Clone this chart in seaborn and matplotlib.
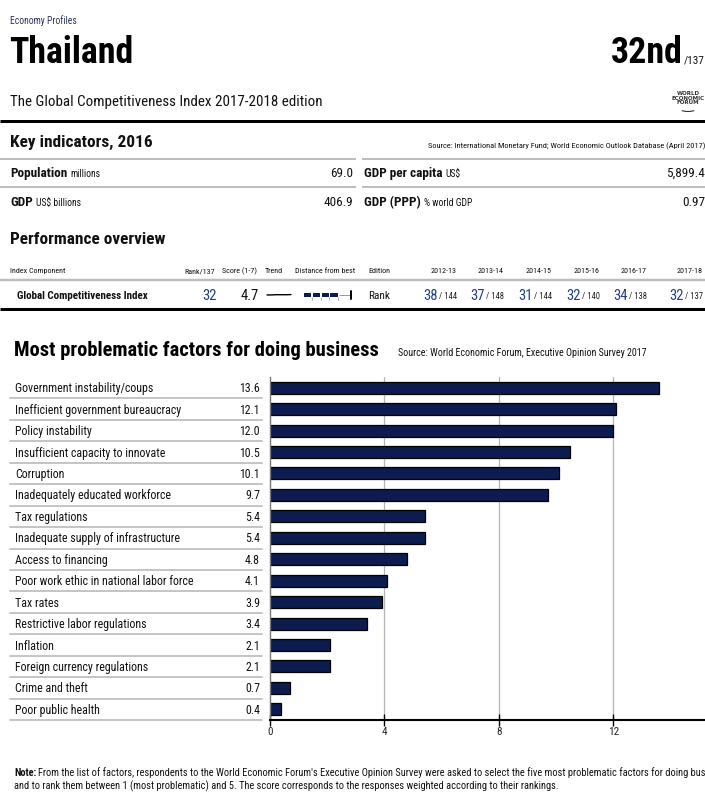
import matplotlib
matplotlib.use("Agg")
import matplotlib.pyplot as plt
import seaborn as sns
import pandas as pd
from matplotlib.lines import Line2D
from matplotlib.patches import Arc
from matplotlib import font_manager as fm
from matplotlib.transforms import blended_transform_factory

# ---------------- data ----------------
country = "Thailand"
overall_rank = 32
n_countries = 137
edition_title = "The Global Competitiveness Index 2017-2018 edition"

indicator_names = ["Population", "GDP", "GDP per capita", "GDP (PPP)"]
indicator_units = ["millions", "US$ billions", "US$", "% world GDP"]
indicator_values = ["69.0", "406.9", "5,899.4", "0.97"]

gci_score = 4.7
best_score = 5.86
trend_scores = [4.52, 4.54, 4.66, 4.64, 4.64, 4.72]
editions = ["2012-13", "2013-14", "2014-15", "2015-16", "2016-17", "2017-18"]
edition_ranks = [38, 37, 31, 32, 34, 32]
edition_totals = [144, 148, 144, 140, 138, 137]

factors = [
    "Government instability/coups",
    "Inefficient government bureaucracy",
    "Policy instability",
    "Insufficient capacity to innovate",
    "Corruption",
    "Inadequately educated workforce",
    "Tax regulations",
    "Inadequate supply of infrastructure",
    "Access to financing",
    "Poor work ethic in national labor force",
    "Tax rates",
    "Restrictive labor regulations",
    "Inflation",
    "Foreign currency regulations",
    "Crime and theft",
    "Poor public health",
]
scores = [13.6, 12.1, 12.0, 10.5, 10.1, 9.7, 5.4, 5.4, 4.8, 4.1, 3.9, 3.4, 2.1, 2.1, 0.7, 0.4]
x_ticks = [0, 4, 8, 12]

# ---------------- style ----------------
def has_bold(name):
    ents = [f for f in fm.fontManager.ttflist if f.name == name]
    return any(str(f.weight) in ("700", "bold") for f in ents) and \
        any(str(f.weight) in ("400", "normal", "regular") for f in ents)


NARROW = "Liberation Sans"
for cand in ["Liberation Sans Narrow", "Arial Narrow", "Roboto Condensed",
             "IBM Plex Sans Condensed", "Fira Sans Condensed", "Pragati Narrow"]:
    if has_bold(cand):
        NARROW = cand
        break
sns.set_theme(style="white")
plt.rcParams["font.family"] = [NARROW, "DejaVu Sans"]

NAVY = "#0c1c4e"
BLUE = "#20408a"
GRAY = "#bdbdbd"
DARK = "#111111"

W, H = 705, 794
fig = plt.figure(figsize=(W / 100, H / 100), dpi=100)
fig.patch.set_facecolor("white")
renderer = fig.canvas.get_renderer()

# global size factor so the widest heading spans what it spans in the reference
_probe = fig.text(0, 0, "Most problematic factors for doing business", fontsize=15.5,
                  fontweight="bold")
K = 366.0 / _probe.get_window_extent(renderer).width
_probe.remove()


def fx(x):
    return x / W


def fy(y):
    return 1 - y / H


def T(x, y, s, size, **kw):
    kw.setdefault("va", "baseline")
    kw.setdefault("color", DARK)
    return fig.text(fx(x), fy(y), s, fontsize=size * K, **kw)


def HL(x0, x1, y, lw_px, color):
    fig.add_artist(Line2D([fx(x0), fx(x1)], [fy(y), fy(y)], lw=lw_px * 0.72,
                          color=color, transform=fig.transFigure, solid_capstyle="butt"))


def right_px(t):
    return t.get_window_extent(renderer).x1


def left_px(t):
    return t.get_window_extent(renderer).x0


# ---------------- header ----------------
T(10, 24, "Economy Profiles", 7.3, color="#2b3557")
T(9, 63, country, 27, fontweight="bold", color="black")
t_small = T(705, 63, f"/{n_countries}", 8.5, ha="right")
T(left_px(t_small) - 1, 63, f"{overall_rank}nd", 27, fontweight="bold", ha="right",
  color="black")
T(10, 106, edition_title, 11.3)
# WEF logo
fig.text(fx(688), fy(98), "WORLD\nECONOMIC\nFORUM", fontsize=4, fontweight="bold",
         ha="center", va="center", linespacing=0.95, color="#333333", family="DejaVu Sans")
fig.add_artist(Arc((fx(688), fy(108)), 18 / W, 7 / H, theta1=200, theta2=340,
                   transform=fig.transFigure, color="#333333", lw=0.8))

HL(0, 705, 121, 3, "black")

# ---------------- key indicators ----------------
T(10, 147, "Key indicators, 2016", 13, fontweight="bold")
T(705, 148, "Source: International Monetary Fund; World Economic Outlook Database (April 2017)",
  6.3, ha="right")
HL(0, 356, 159, 2, GRAY)
HL(362, 705, 159, 2, GRAY)
HL(0, 356, 187, 2, GRAY)
HL(362, 705, 187, 2, GRAY)

rows_y = [177, 206, 177, 206]
x_lbl = [10, 10, 364, 364]
x_val = [353, 353, 705, 705]
for name, unit, val, y, xl, xv in zip(indicator_names, indicator_units, indicator_values,
                                      rows_y, x_lbl, x_val):
    t = T(xl, y, name, 10, fontweight="bold")
    T(right_px(t) + 3, y, unit, 7.3)
    T(xv, y, val, 10, ha="right")

# ---------------- performance overview ----------------
T(10, 244, "Performance overview", 13, fontweight="bold")
hy = 273
hs = 6.0
T(10, hy, "Index Component", hs)
T(215, hy, f"Rank/{n_countries}", hs, ha="right")
T(222, hy, "Score (1-7)", hs)
T(265, hy, "Trend", hs)
T(295, hy, "Distance from best", hs)
T(368, hy, "Edition", hs)
ed_right = [457, 504, 552, 600, 647, 703]
for e, xr in zip(editions, ed_right):
    T(xr, hy, e, hs, ha="right")
HL(0, 705, 280, 2.5, GRAY)

ry = 299
T(17, ry, "Global Competitiveness Index", 8.3, fontweight="bold")
T(217, ry + 1, f"{overall_rank}", 11, ha="right", color=BLUE)
T(259, ry + 1, f"{gci_score}", 11, ha="right")
# trend sparkline
tx0, tx1 = 267, 291
tmin, tmax = 4.0, 5.5
n = len(trend_scores)
xs = [fx(tx0 + (tx1 - tx0) * i / (n - 1)) for i in range(n)]
ys = [fy(299 - 3 - (s - tmin) / (tmax - tmin) * 3) for s in trend_scores]
fig.add_artist(Line2D(xs, ys, lw=1.0, color="black", transform=fig.transFigure))
# distance from best
dx0, dx1 = 304, 350
fill_end = dx0 + (dx1 - dx0) * (gci_score - 1) / (best_score - 1)
seg = (fill_end - dx0) / 4
for k in range(4):
    a = dx0 + k * seg
    b = a + seg - 1.5
    HL(a, b, 295, 4, NAVY)
    fig.add_artist(Line2D([fx(b + 0.7)] * 2, [fy(297), fy(300)], lw=0.5, color="#999999",
                          transform=fig.transFigure))
HL(fill_end, dx1, 295, 1, "#9a9a9a")
fig.add_artist(Line2D([fx(dx1 + 1)] * 2, [fy(291), fy(299)], lw=1.4, color="black",
                      transform=fig.transFigure))
T(368, ry, "Rank", 8.5)
for r, tot, xr in zip(edition_ranks, edition_totals, ed_right):
    ts = T(xr, ry, f"/ {tot}", 6.5, ha="right", color="#222222")
    T(left_px(ts) - 1.5, ry + 1, f"{r}", 11, ha="right", color=BLUE)
HL(0, 705, 309, 3, "black")

# ---------------- most problematic factors ----------------
T(14, 356, "Most problematic factors for doing business", 15.5, fontweight="bold",
  color="black")
T(398, 356, "Source: World Economic Forum, Executive Opinion Survey 2017", 7.5)

ax = fig.add_axes([fx(270), fy(720), 435 / W, (720 - 377) / H])
df = pd.DataFrame({"factor": factors, "score": scores})
sns.barplot(data=df, x="score", y="factor", orient="h", color=NAVY, saturation=1,
            edgecolor="black", linewidth=0.9, width=0.56, ax=ax, zorder=2)
ax.set_xlim(0, 15.2)
ax.set_ylim(len(factors) - 0.5, -0.5)
ax.set_yticks([])
ax.set_xlabel("")
ax.set_ylabel("")
ax.set_xticks(x_ticks)
ax.set_xticklabels([str(t) for t in x_ticks])
ax.tick_params(axis="x", direction="inout", length=8, width=1, color="black",
               labelsize=8.5 * K, pad=1, bottom=True)
for t in x_ticks[1:]:
    ax.axvline(t, color="#b5b5b5", lw=0.9, zorder=0.5)
for s in ["top", "right"]:
    ax.spines[s].set_visible(False)
ax.spines["left"].set_color("#777777")
ax.spines["left"].set_linewidth(1.0)
ax.spines["bottom"].set_color("black")
ax.spines["bottom"].set_linewidth(1.5)
ax.set_facecolor("white")

trans = blended_transform_factory(fig.transFigure, ax.transData)
for i, (f, v) in enumerate(zip(factors, scores)):
    ax.text(fx(15), i + 0.05, f, transform=trans, ha="left", va="center", fontsize=9.0 * K,
            color=DARK, clip_on=False)
    ax.text(fx(260), i + 0.05, f"{v:.1f}", transform=trans, ha="right", va="center",
            fontsize=9.0 * K, color=DARK, clip_on=False)
    ax.add_line(Line2D([fx(10), fx(262)], [i + 0.5, i + 0.5], transform=trans,
                       color="#c4c4c4", lw=1.4, clip_on=False))

# ---------------- note ----------------
t_note = T(14, 776, "Note:", 7.8, fontweight="bold")
T(right_px(t_note) + 2, 776,
  "From the list of factors, respondents to the World Economic Forum's Executive Opinion Survey "
  "were asked to select the five most problematic factors for doing business in their country",
  7.8)
T(14, 789, "and to rank them between 1 (most problematic) and 5. The score corresponds to the "
  "responses weighted according to their rankings.", 7.8)

fig.savefig("out.png", dpi=100, facecolor="white")
